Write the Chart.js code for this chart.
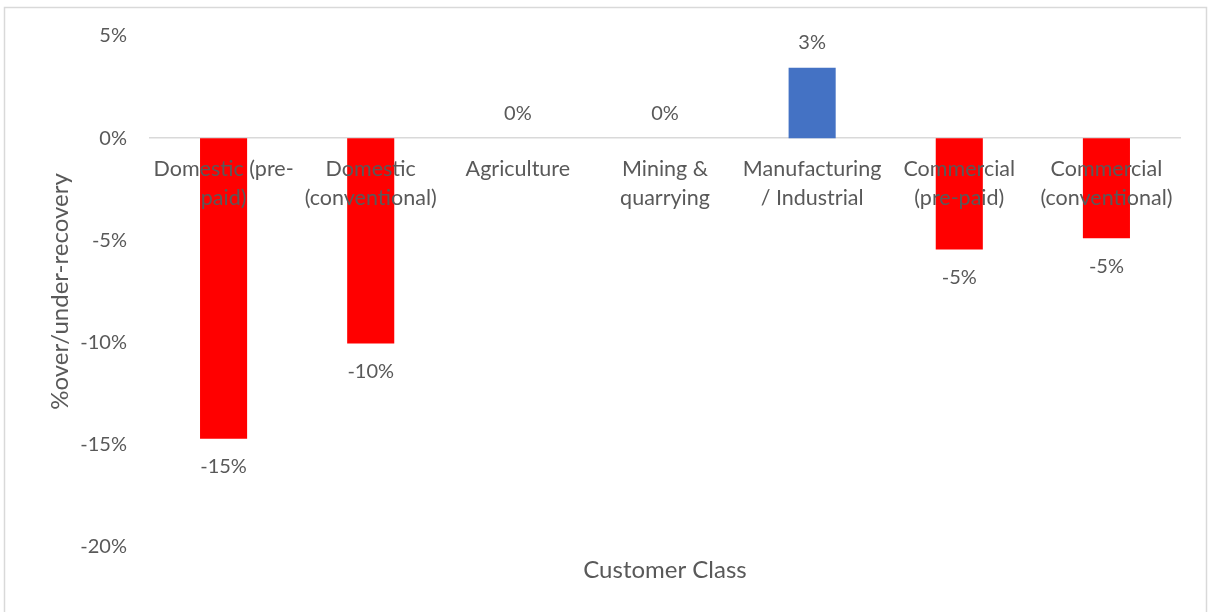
<!DOCTYPE html>
<html>
<head>
<meta charset="utf-8">
<script src="https://cdn.jsdelivr.net/npm/chart.js@4"></script>
<style>
  body { margin: 0; background: #fff; }
  #wrap { width: 1208px; height: 612px; }
</style>
</head>
<body>
<div id="wrap"><canvas id="myChart" width="1208" height="612"></canvas></div>
<script>
const categories = [
  ['Domestic (pre-', 'paid)'],
  ['Domestic', '(conventional)'],
  'Agriculture',
  ['Mining &', 'quarrying'],
  ['Manufacturing', '/ Industrial'],
  ['Commercial', '(pre-paid)'],
  ['Commercial', '(conventional)']
];
const recovery = [-0.147, -0.1005, 0, 0, 0.0345, -0.0545, -0.049];
const yTicks = [0.05, 0, -0.05, -0.10, -0.15, -0.20];

const textColor = '#595959';
const fontFamily = 'Lato, "Noto Sans", sans-serif';

const ctx = document.getElementById('myChart');

// frame round the chart + x axis title
const framePlugin = {
  id: 'frame',
  beforeDraw(chart) {
    const c = chart.ctx;
    c.save();
    c.strokeStyle = '#d9d9d9';
    c.lineWidth = 1.5;
    c.strokeRect(4.5, 7.5, 1202, 620);
    c.restore();
  },
  afterDraw(chart) {
    const c = chart.ctx;
    const area = chart.chartArea;
    c.save();
    c.fillStyle = textColor;
    c.font = '24px ' + fontFamily;
    c.textAlign = 'center';
    c.textBaseline = 'middle';
    c.fillText('Customer Class', (area.left + area.right) / 2, 570);
    c.restore();
  }
};

// value labels at bar ends
const valueLabels = {
  id: 'valueLabels',
  afterDatasetsDraw(chart) {
    const c = chart.ctx;
    const meta = chart.getDatasetMeta(0);
    c.save();
    c.fillStyle = textColor;
    c.font = '20px ' + fontFamily;
    c.textAlign = 'center';
    c.textBaseline = 'middle';
    meta.data.forEach((bar, i) => {
      const v = recovery[i];
      const txt = Math.round(v * 100) + '%';
      const y = v >= 0 ? bar.y - 25 : bar.y + 28;
      c.fillText(txt, bar.x, y);
    });
    c.restore();
  }
};

new Chart(ctx, {
  type: 'bar',
  data: {
    labels: categories,
    datasets: [{
      data: recovery,
      backgroundColor: recovery.map(v => v >= 0 ? '#4472C4' : '#FF0000'),
      categoryPercentage: 1,
      barPercentage: 0.32
    }]
  },
  options: {
    responsive: false,
    animation: false,
    layout: {
      padding: { top: 36, right: 28, bottom: 65, left: 0 }
    },
    plugins: {
      legend: { display: false },
      tooltip: { enabled: false }
    },
    scales: {
      x: {
        position: { y: 0 },
        grid: { display: false, drawTicks: false },
        border: { display: true, color: '#d9d9d9', width: 1.5 },
        ticks: {
          z: 1,
          color: textColor,
          font: { family: fontFamily, size: 21.5, lineHeight: 1.35 },
          padding: 16,
          maxRotation: 0,
          autoSkip: false
        }
      },
      y: {
        min: -0.2,
        max: 0.05,
        afterFit(scale) { scale.width = 150; },
        afterBuildTicks(scale) { scale.ticks = yTicks.map(v => ({ value: v })); },
        grid: { display: false, drawTicks: false },
        border: { display: false },
        ticks: {
          color: textColor,
          font: { family: fontFamily, size: 20 },
          padding: 23,
          callback: v => Math.round(v * 100) + '%'
        },
        title: {
          display: true,
          text: '%over/under-recovery',
          color: textColor,
          font: { family: fontFamily, size: 24 },
          padding: { top: 46, bottom: 0 }
        }
      }
    }
  },
  plugins: [framePlugin, valueLabels]
});
</script>
</body>
</html>
